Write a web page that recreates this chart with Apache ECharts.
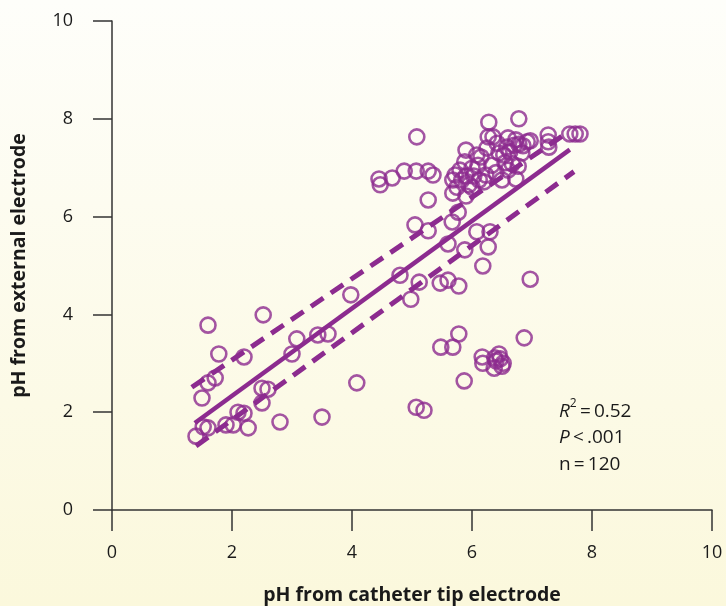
<!DOCTYPE html>
<html>
<head>
<meta charset="utf-8">
<style>html,body{margin:0;padding:0;}#c{width:726px;height:606px;}</style>
<script src="https://cdn.jsdelivr.net/npm/echarts@6/dist/echarts.min.js"></script>
</head>
<body>
<div id="c"></div>
<script>
// Scatter points: [pH catheter tip, pH external]
var points = [
[1.6,3.78],[1.78,3.19],[1.72,2.7],[1.6,2.6],[1.5,2.29],[1.4,1.51],[1.52,1.70],[1.6,1.68],
[1.9,1.74],[2.02,1.74],[2.1,2.0],[2.2,1.98],[2.27,1.68],[2.2,3.13],[2.52,3.99],[2.5,2.49],
[2.6,2.47],[2.5,2.19],[2.8,1.8],[3.0,3.19],[3.08,3.5],[3.43,3.58],[3.6,3.6],[3.5,1.9],
[3.98,4.4],[4.08,2.6],[4.8,4.8],[4.45,6.77],[4.47,6.65],[4.67,6.79],[4.87,6.93],[5.07,6.93],
[5.27,6.93],[5.35,6.85],[5.08,7.63],[5.27,6.34],[5.05,5.83],[5.27,5.71],[4.98,4.31],[5.12,4.66],
[5.07,2.1],[5.2,2.04],[5.48,3.33],[5.68,3.33],[5.78,3.6],[5.87,2.64],[5.47,4.64],[5.6,4.7],
[5.78,4.58],[5.6,5.44],[5.88,5.32],[5.67,5.89],[5.77,6.09],[5.9,6.42],[5.68,6.48],[5.68,6.75],
[5.72,6.85],[5.83,6.75],[5.9,6.83],[5.88,7.12],[5.9,7.36],[6.0,6.99],[6.08,7.26],[6.15,7.22],
[6.03,6.83],[6.12,6.75],[6.2,6.71],[6.23,6.85],[6.33,7.05],[6.27,7.63],[6.28,7.93],[6.35,7.63],
[6.08,5.69],[6.3,5.69],[6.27,5.38],[6.18,4.99],[6.17,3.13],[6.18,3.0],[6.38,3.11],[6.37,2.9],
[6.47,3.09],[6.5,2.94],[6.45,3.19],[6.52,3.0],[6.4,3.05],[6.87,3.52],[6.97,4.72],[6.5,6.75],
[6.53,7.26],[6.58,7.42],[6.63,7.32],[6.7,7.46],[6.73,7.57],[6.6,7.61],[6.78,8.0],[6.78,7.48],
[6.92,7.53],[6.83,7.3],[6.67,7.08],[6.73,6.77],[6.77,7.03],[6.97,7.55],[7.27,7.67],[7.27,7.53],
[7.28,7.42],[7.63,7.69],[7.72,7.69],[7.8,7.69],[6.45,7.3],[6.55,7.1],[5.95,6.65],[6.1,7.05],
[6.4,6.9],[5.75,6.6],[6.25,7.4],[6.6,6.95],[6.0,6.6],[6.85,7.45],[5.8,6.95],[6.42,7.5]
];
// Regression line and confidence band endpoints
var fitLine = [[1.38,1.78],[7.63,7.37]];
var upperBand = [[1.33,2.51],[7.58,7.71]];
var lowerBand = [[1.4,1.31],[7.7,6.92]];
var xTicks = [0,2,4,6,8,10];
var yTicks = [0,2,4,6,8,10];

var purple = '#8C2B8F';
var font = '"Open Sans", "Noto Sans", sans-serif';
var chart = echarts.init(document.getElementById('c'));
chart.setOption({
  animation: false,
  backgroundColor: {type:'linear', x:0, y:0, x2:0, y2:1,
    colorStops:[{offset:0,color:'#FEFEFA'},{offset:1,color:'#FBF8DC'}]},
  grid: {left:112, right:14, top:21, bottom:96, containLabel:false, outerBoundsMode:'none'},
  xAxis: {
    type:'value', min:0, max:10, interval:2,
    name:'pH from catheter tip electrode', nameLocation:'middle', nameGap:75,
    nameTextStyle:{fontFamily:font, fontWeight:'bold', fontSize:19.5, color:'#1a1a1a'},
    axisLine:{show:true, onZero:false, lineStyle:{color:'#333', width:1.5}},
    axisTick:{show:true, length:21, inside:false, lineStyle:{color:'#333', width:1.5}},
    axisLabel:{margin:34, fontFamily:font, fontSize:18, color:'#1a1a1a',
      formatter:function(v){return xTicks.indexOf(v)>=0 ? String(v) : '';}},
    splitLine:{show:false}
  },
  yAxis: {
    type:'value', min:0, max:10, interval:2,
    name:'pH from external electrode', nameLocation:'middle', nameGap:83,
    nameTextStyle:{fontFamily:font, fontWeight:'bold', fontSize:19.5, color:'#1a1a1a'},
    axisLine:{show:true, onZero:false, lineStyle:{color:'#333', width:1.5}},
    axisTick:{show:true, length:19, lineStyle:{color:'#333', width:1.5}},
    axisLabel:{margin:39, fontFamily:font, fontSize:18, color:'#1a1a1a',
      formatter:function(v){return yTicks.indexOf(v)>=0 ? String(v) : '';}},
    splitLine:{show:false}
  },
  series: [
    {type:'scatter', data:points, symbol:'circle', symbolSize:15,
      itemStyle:{color:'rgba(0,0,0,0)', borderColor:purple, borderWidth:2.6}, z:2},
    {type:'line', data:fitLine, showSymbol:false, symbol:'none',
      lineStyle:{color:purple, width:4.5}, z:3},
    {type:'line', data:upperBand, showSymbol:false, symbol:'none',
      lineStyle:{color:purple, width:5, type:[15,9]}, z:3},
    {type:'line', data:lowerBand, showSymbol:false, symbol:'none',
      lineStyle:{color:purple, width:5, type:[15,9]}, z:3}
  ],
  graphic: [
    {type:'text', left:559, top:398, style:{
      text:'{i|R}{sup|2}{n|\u2009=\u20090.52}\n{i|P}{n|\u2009<\u2009.001}\n{n|n\u2009=\u2009120}',
      font:'19px ' + font, fill:'#1a1a1a', lineHeight:26.5,
      rich:{
        i:{fontStyle:'italic', fontSize:19, fontFamily:font, fill:'#1a1a1a', lineHeight:26.5},
        n:{fontSize:19, fontFamily:font, fill:'#1a1a1a', lineHeight:26.5},
        sup:{fontSize:12, fontFamily:font, fill:'#1a1a1a', verticalAlign:'top', lineHeight:26.5, padding:[0,0,8,0]}
      }}}
  ]
});
</script>
</body>
</html>
